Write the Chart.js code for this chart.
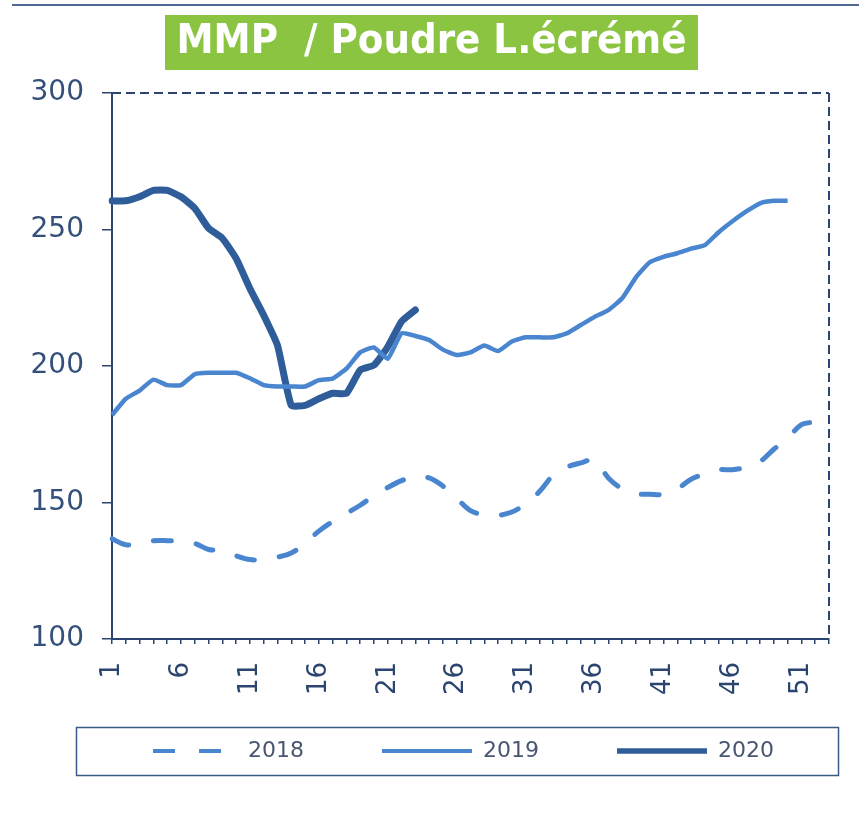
<!DOCTYPE html>
<html><head><meta charset="utf-8">
<script src="https://cdn.jsdelivr.net/npm/chart.js@4.4.1/dist/chart.umd.min.js"></script>
<style>html,body{margin:0;padding:0;background:#fff}#wrap{width:859px;height:822px}</style>
</head><body><div id="wrap"><canvas id="c" width="859" height="822"></canvas></div>
<script>
const titleText = "MMP  / Poudre L.écrémé";
const weeks = ["1","2","3","4","5","6","7","8","9","10","11","12","13","14","15","16","17","18","19","20",
  "21","22","23","24","25","26","27","28","29","30","31","32","33","34","35","36","37","38","39","40",
  "41","42","43","44","45","46","47","48","49","50","51","52","53"];
const seriesNames = ["2018","2019","2020"];
const values2018 = [136.7,134.5,135,136,136,135.7,135,132.8,132.4,130.5,129.1,129.1,130,131.5,135,139.5,143,146,149,152.5,
  155.5,158,159.5,159,156,151.5,147,145.5,145.3,146.5,149.5,154,160,163,164.5,165.5,159,155,153.2,153,
  153,155,158.5,160.5,162,162,163,165,169.5,173.5,178.5,179.5];
const values2019 = [182,188,191,195,193,193,197,197.5,197.5,197.5,195.5,193,192.5,192.5,192.5,194.8,195.4,199,205,206.8,
  202.7,212,211,209.5,206,204,205,207.5,205.5,209,210.5,210.5,210.5,212,215,218,220.5,224.8,232.5,238,
  240,241.3,243,244.3,249,253,256.6,259.6,260.5,260.5];
const values2020 = [260.5,260.5,262,264.3,264.3,262,257.8,250.5,246.8,239.4,228.4,218.6,207.6,185.6,185.6,188,190,190,198.5,200.3,
  207,216.3,220.5];
const yMin = 100, yMax = 300, yStep = 50;

const NAVY = '#2B4470';
const LIGHT = '#4A86CF';
const DARK = '#2F5D99';
const legendLineWidths = [4, 4, 5.5];

const decor = {
  id: 'decor',
  afterLayout(chart) {
    const lg = chart.legend;
    const pad = lg.options.labels.padding;
    const fs = lg.options.labels.font.size;
    const dy = (751 - pad - fs / 2) - lg.top;
    lg.top += dy; lg.bottom += dy;
    const dx = 460.5 - (lg.left + lg.right) / 2;
    lg.left += dx; lg.right += dx;
  },
  beforeDraw(chart) {
    const ctx = chart.ctx;
    ctx.save();
    ctx.fillStyle = '#fff';
    ctx.fillRect(0, 0, chart.width, chart.height);
    ctx.strokeStyle = '#4F6A92';
    ctx.lineWidth = 2;
    ctx.beginPath(); ctx.moveTo(12, 5); ctx.lineTo(chart.width, 5); ctx.stroke();
    ctx.fillStyle = '#8BC441';
    ctx.fillRect(165, 15, 533, 55);
    ctx.font = 'bold 40px "DejaVu Sans Condensed", "DejaVu Sans", sans-serif';
    const w = ctx.measureText(titleText).width;
    ctx.translate(431.5, 43);
    ctx.scale(510 / w, 1);
    ctx.fillStyle = '#fff';
    ctx.textAlign = 'center';
    ctx.textBaseline = 'middle';
    ctx.fillText(titleText, 0, 0);
    ctx.restore();
  },
  beforeDatasetsDraw(chart) {
    const ctx = chart.ctx, a = chart.chartArea;
    ctx.save();
    ctx.strokeStyle = NAVY;
    ctx.lineWidth = 2;
    ctx.setLineDash([9, 5]);
    ctx.beginPath();
    ctx.moveTo(a.left, a.top); ctx.lineTo(a.right, a.top);
    ctx.moveTo(a.right, a.top); ctx.lineTo(a.right, a.bottom);
    ctx.stroke();
    ctx.restore();
  },
  afterDraw(chart) {
    const ctx = chart.ctx;
    ctx.save();
    ctx.strokeStyle = '#3B5A85';
    ctx.lineWidth = 1.5;
    ctx.strokeRect(76.5, 727.5, 762, 48);
    ctx.restore();
  }
};

new Chart(document.getElementById('c'), {
  type: 'line',
  data: {
    labels: weeks,
    datasets: [
      { label: seriesNames[0], data: values2018, borderColor: LIGHT, backgroundColor: LIGHT,
        borderWidth: 5, borderDash: [18, 25], borderCapStyle: 'round', pointRadius: 0, tension: 0.35 },
      { label: seriesNames[1], data: values2019, borderColor: LIGHT, backgroundColor: LIGHT,
        borderWidth: 4.5, pointRadius: 0, tension: 0.15, borderJoinStyle: 'round' },
      { label: seriesNames[2], data: values2020, borderColor: DARK, backgroundColor: DARK,
        borderWidth: 7, pointRadius: 0, tension: 0.15, borderJoinStyle: 'round', borderCapStyle: 'round' }
    ]
  },
  options: {
    responsive: false,
    animation: false,
    devicePixelRatio: 1,
    layout: { padding: { top: 93, left: 12, right: 30, bottom: 11 } },
    plugins: {
      tooltip: { enabled: false },
      title: { display: false },
      legend: {
        position: 'bottom',
        labels: {
          usePointStyle: true,
          pointStyle: 'line',
          pointStyleWidth: 90,
          padding: 78,
          color: '#4A5670',
          font: { family: '"DejaVu Sans", sans-serif', size: 22 },
          generateLabels(chart) {
            const items = Chart.defaults.plugins.legend.labels.generateLabels(chart);
            items.forEach((it) => {
              const ds = chart.data.datasets[it.datasetIndex];
              it.lineDash = ds.borderDash ? [22, 24] : [];
              it.lineDashOffset = ds.borderDash ? -6 : 0;
              it.lineCap = 'butt';
              it.lineWidth = legendLineWidths[it.datasetIndex];
            });
            return items;
          }
        }
      }
    },
    scales: {
      x: {
        type: 'category',
        offset: false,
        afterFit(scale) { scale.height = 62; scale.paddingLeft = 0; scale.paddingRight = 0; },
        grid: { drawOnChartArea: false, tickLength: 5, color: NAVY, lineWidth: 1.5 },
        border: { display: true, color: NAVY, width: 2 },
        ticks: {
          autoSkip: false, maxRotation: 90, minRotation: 90, padding: 18,
          color: NAVY,
          font: { family: '"DejaVu Sans", sans-serif', size: 26 },
          callback(val, idx) { return (idx % 5 === 0 && idx <= 50) ? this.getLabelForValue(val) : ''; }
        }
      },
      y: {
        min: yMin, max: yMax,
        afterFit(scale) { scale.width = 100; },
        grid: { drawOnChartArea: false, tickLength: 10, color: NAVY, lineWidth: 1.5 },
        border: { display: true, color: NAVY, width: 2, dash: [9, 5] },
        ticks: {
          stepSize: yStep, padding: 18, color: '#34507A',
          font: { family: '"DejaVu Sans", sans-serif', size: 28 }
        }
      }
    }
  },
  plugins: [decor]
});
</script></body></html>
